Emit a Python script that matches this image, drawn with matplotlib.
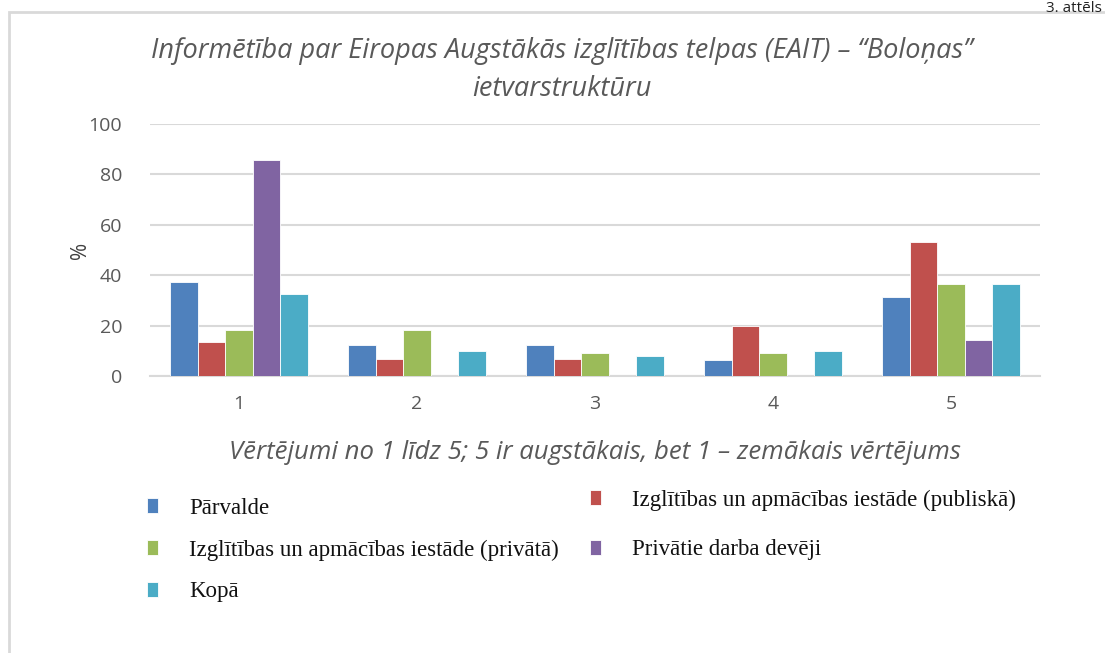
import matplotlib
matplotlib.use("Agg")
import matplotlib.pyplot as plt
from matplotlib.patches import Rectangle
import numpy as np

categories = ["1", "2", "3", "4", "5"]
series_names = [
    "Pārvalde",
    "Izglītības un apmācības iestāde (publiskā)",
    "Izglītības un apmācības iestāde (privātā)",
    "Privātie darba devēji",
    "Kopā",
]
parvalde = [37.5, 12.5, 12.5, 6.25, 31.25]
publiska = [13.3, 6.7, 6.7, 20.0, 53.3]
privata = [18.2, 18.2, 9.1, 9.1, 36.4]
darba_deveji = [85.7, 0, 0, 0, 14.3]
kopa = [32.5, 10.0, 7.9, 10.0, 36.6]
series_values = [parvalde, publiska, privata, darba_deveji, kopa]
colors = ["#4F81BD", "#C0504D", "#9BBB59", "#8064A2", "#4BACC6"]
y_ticks = [0, 20, 40, 60, 80, 100]

title = "Informētība par Eiropas Augstākās izglītības telpas (EAIT) – \u201cBoloņas\u201d\nietvarstruktūru"
xlabel = "Vērtējumi no 1 līdz 5; 5 ir augstākais, bet 1 – zemākais vērtējums"

W, H = 1105, 653
fig = plt.figure(figsize=(W / 100, H / 100), dpi=100)
fig.patch.set_facecolor("white")

# outer border
fig.add_artist(Rectangle((9 / W, -0.05), 1.2, 1 - 12 / H + 0.05, transform=fig.transFigure,
                         fill=False, edgecolor="#d9d9d9", linewidth=2))
fig.text(1102 / W, 1 - 0.5 / H, "3. attēls", ha="right", va="top", fontsize=11,
         family="Open Sans", color="#222222")

ax = fig.add_axes([150 / W, 1 - 376 / H, 890 / W, 252 / H])
x = np.arange(1, len(categories) + 1)
bw = 0.155
handles = []
for i, (vals, c, name) in enumerate(zip(series_values, colors, series_names)):
    b = ax.bar(x + (i - 2) * bw, vals, width=bw, color=c, edgecolor="white", linewidth=0.6,
               label=name, zorder=3)
    handles.append(b)

ax.set_xlim(0.5, 5.5)
ax.set_ylim(0, 100)
ax.set_yticks(y_ticks)
ax.set_xticks(x)
ax.set_xticklabels(categories)
ax.grid(axis="y", color="#d9d9d9", linewidth=1.5, zorder=0)
for s in ["top", "right", "left"]:
    ax.spines[s].set_visible(False)
ax.spines["bottom"].set_color("#d9d9d9")
ax.spines["bottom"].set_linewidth(1.5)
ax.tick_params(axis="both", length=0, labelsize=14, labelcolor="#595959")
ax.tick_params(axis="y", pad=20)
ax.tick_params(axis="x", pad=14)
for lbl in ax.get_xticklabels() + ax.get_yticklabels():
    lbl.set_family("Open Sans")

ax.set_ylabel("%", fontsize=15, color="#404040", family="Open Sans", labelpad=-2)
ax.set_xlabel(xlabel, fontsize=18.5, color="#595959", family="Open Sans", style="italic",
              labelpad=19)
fig.text(562 / W, 1 - 70 / H, title, ha="center", va="center", fontsize=19.5,
         color="#595959", family="Open Sans", style="italic", linespacing=1.45)

# legend: laid out row by row (2 columns), as in the reference
col_x = [155, 598]
row_y = [508, 550, 592]
for i, (name, c) in enumerate(zip(series_names, colors)):
    r, col = divmod(i, 2)
    ymid = row_y[r] - (8 if i == 1 else 0)
    leg = fig.legend([handles[i]], [name], loc="center left",
                     bbox_to_anchor=((col_x[col] - 8) / W, 1 - ymid / H),
                     frameon=False, prop={"family": "Liberation Serif", "size": 16.5},
                     handlelength=0.5, handleheight=0.6, handletextpad=1.35,
                     borderpad=0, borderaxespad=0)
    for t in leg.get_texts():
        t.set_color("#111111")

fig.savefig("out.png", dpi=100)
